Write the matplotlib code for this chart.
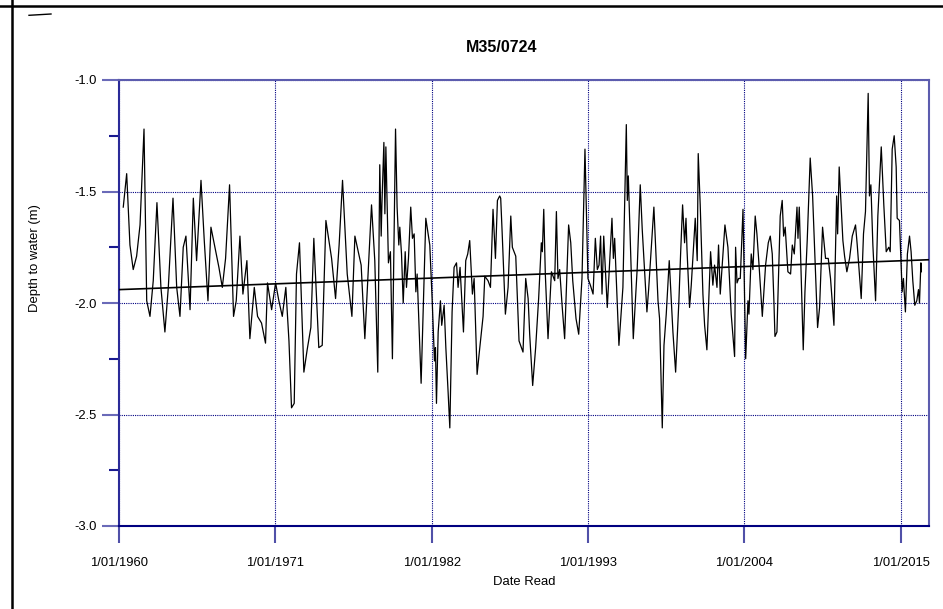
import matplotlib
matplotlib.use("Agg")
import matplotlib.pyplot as plt
from matplotlib.lines import Line2D
from matplotlib.ticker import FixedLocator, FuncFormatter

plt.rcParams['font.family'] = ['Liberation Sans', 'DejaVu Sans']

# readings, decimal year
years = [1960.30, 1960.54, 1960.77, 1961.00, 1961.24, 1961.48, 1961.76, 1961.95, 1962.18, 1962.41,
         1962.67, 1962.95, 1963.23, 1963.47, 1963.80, 1964.06, 1964.29, 1964.52, 1964.71, 1965.00,
         1965.23, 1965.46, 1965.77, 1966.00, 1966.26, 1966.47, 1966.75, 1967.03, 1967.27, 1967.50,
         1967.78, 1968.06, 1968.25, 1968.51, 1968.72, 1969.00, 1969.21, 1969.52, 1969.75, 1970.03,
         1970.31, 1970.45, 1970.74, 1971.02, 1971.25, 1971.49, 1971.74, 1971.96, 1972.14, 1972.33,
         1972.49, 1972.70, 1973.01, 1973.24, 1973.50, 1973.71, 1974.06, 1974.30, 1974.56, 1974.96,
         1975.24, 1975.49, 1975.73, 1976.06, 1976.39, 1976.60, 1977.04, 1977.30, 1977.77, 1978.00,
         1978.21, 1978.35, 1978.45, 1978.50, 1978.64, 1978.71, 1978.78, 1978.96, 1979.10, 1979.24,
         1979.46, 1979.57, 1979.69, 1979.76, 1979.88, 1980.00, 1980.14, 1980.23, 1980.37, 1980.53,
         1980.65, 1980.77, 1980.89, 1980.98, 1981.26, 1981.59, 1981.87, 1982.04, 1982.20, 1982.27,
         1982.34, 1982.46, 1982.62, 1982.71, 1982.88, 1983.00, 1983.16, 1983.28, 1983.44, 1983.58,
         1983.75, 1983.86, 1984.00, 1984.24, 1984.40, 1984.54, 1984.68, 1984.87, 1984.99, 1985.20,
         1985.34, 1985.62, 1985.74, 1985.97, 1986.14, 1986.32, 1986.49, 1986.63, 1986.79, 1986.86,
         1986.96, 1987.19, 1987.38, 1987.57, 1987.68, 1987.92, 1988.15, 1988.43, 1988.62, 1988.79,
         1988.90, 1989.11, 1989.32, 1989.53, 1989.72, 1989.79, 1989.89, 1990.00, 1990.19, 1990.43,
         1990.66, 1990.78, 1990.89, 1991.01, 1991.18, 1991.36, 1991.46, 1991.64, 1991.79, 1991.93,
         1992.16, 1992.35, 1992.58, 1992.79, 1993.00, 1993.17, 1993.36, 1993.52, 1993.66, 1993.78,
         1993.89, 1993.99, 1994.11, 1994.36, 1994.69, 1994.79, 1994.88, 1995.18, 1995.46, 1995.70,
         1995.77, 1995.84, 1996.19, 1996.47, 1996.68, 1996.82, 1997.15, 1997.27, 1997.39, 1997.64,
         1997.93, 1998.04, 1998.23, 1998.35, 1998.51, 1998.72, 1998.98, 1999.17, 1999.40, 1999.52,
         1999.66, 1999.80, 1999.90, 1999.97, 2000.15, 2000.27, 2000.55, 2000.69, 2000.76, 2000.90,
         2001.09, 2001.21, 2001.37, 2001.63, 2001.79, 2001.91, 2002.08, 2002.19, 2002.31, 2002.64,
         2002.85, 2003.08, 2003.32, 2003.39, 2003.49, 2003.60, 2003.72, 2003.91, 2004.10, 2004.26,
         2004.33, 2004.49, 2004.61, 2004.77, 2004.89, 2005.03, 2005.27, 2005.50, 2005.69, 2005.83,
         2005.97, 2006.09, 2006.16, 2006.30, 2006.53, 2006.67, 2006.77, 2006.88, 2007.07, 2007.26,
         2007.38, 2007.52, 2007.71, 2007.78, 2007.87, 2008.15, 2008.27, 2008.43, 2008.64, 2008.81,
         2009.16, 2009.30, 2009.51, 2009.72, 2009.91, 2010.07, 2010.31, 2010.50, 2010.57, 2010.68,
         2010.94, 2011.06, 2011.22, 2011.41, 2011.60, 2011.83, 2011.95, 2012.23, 2012.39, 2012.53,
         2012.72, 2012.81, 2012.91, 2013.05, 2013.24, 2013.40, 2013.64, 2013.82, 2013.99, 2014.17,
         2014.27, 2014.41, 2014.55, 2014.69, 2014.76, 2014.92, 2015.11, 2015.20, 2015.34, 2015.48,
         2015.63, 2015.74, 2015.86, 2016.00, 2016.14, 2016.26, 2016.33, 2016.43, 2016.45]
depth = [-1.57, -1.42, -1.74, -1.85, -1.79, -1.65, -1.22, -1.99, -2.06, -1.90,
         -1.55, -1.93, -2.13, -1.93, -1.53, -1.93, -2.06, -1.75, -1.70, -2.03,
         -1.53, -1.81, -1.45, -1.72, -1.99, -1.66, -1.75, -1.84, -1.93, -1.80,
         -1.47, -2.06, -1.99, -1.70, -1.96, -1.81, -2.16, -1.93, -2.06, -2.09,
         -2.18, -1.91, -2.03, -1.91, -1.99, -2.06, -1.93, -2.17, -2.47, -2.45,
         -1.87, -1.73, -2.31, -2.21, -2.11, -1.71, -2.20, -2.19, -1.63, -1.80,
         -1.98, -1.74, -1.45, -1.87, -2.06, -1.70, -1.83, -2.16, -1.56, -1.81,
         -2.31, -1.38, -1.70, -1.56, -1.28, -1.60, -1.30, -1.82, -1.77, -2.25,
         -1.22, -1.57, -1.74, -1.66, -1.78, -2.00, -1.77, -1.93, -1.80, -1.57,
         -1.71, -1.69, -1.95, -1.87, -2.36, -1.62, -1.74, -1.99, -2.26, -2.20,
         -2.45, -2.13, -1.99, -2.10, -2.01, -2.20, -2.40, -2.56, -2.04, -1.84,
         -1.82, -1.93, -1.84, -2.13, -1.81, -1.78, -1.72, -1.96, -1.89, -2.32,
         -2.23, -2.06, -1.88, -1.90, -1.93, -1.58, -1.80, -1.54, -1.52, -1.53,
         -1.68, -2.05, -1.93, -1.61, -1.75, -1.79, -2.17, -2.22, -1.89, -1.98,
         -2.14, -2.37, -2.20, -1.98, -1.73, -1.77, -1.58, -1.87, -2.16, -1.86,
         -1.90, -1.59, -1.89, -1.85, -2.01, -2.16, -1.98, -1.65, -1.73, -1.90,
         -2.07, -2.14, -1.89, -1.31, -1.89, -1.92, -1.96, -1.71, -1.85, -1.83,
         -1.70, -1.96, -1.70, -2.02, -1.62, -1.80, -1.71, -2.19, -1.93, -1.20,
         -1.54, -1.43, -2.16, -1.84, -1.47, -1.67, -2.04, -1.94, -1.82, -1.57,
         -1.99, -2.07, -2.56, -2.19, -2.05, -1.81, -2.13, -2.31, -1.99, -1.78,
         -1.56, -1.73, -1.62, -1.76, -2.02, -1.92, -1.62, -1.81, -1.33, -1.56,
         -1.96, -2.10, -2.21, -1.77, -1.92, -1.83, -1.93, -1.74, -1.96, -1.65,
         -1.75, -2.05, -2.24, -1.75, -1.91, -1.89, -1.89, -1.58, -2.25, -1.99,
         -2.05, -1.78, -1.85, -1.61, -1.69, -1.82, -2.06, -1.83, -1.73, -1.70,
         -1.78, -2.00, -2.15, -2.13, -1.61, -1.54, -1.70, -1.66, -1.86, -1.87,
         -1.74, -1.78, -1.57, -1.71, -1.57, -2.21, -1.95, -1.72, -1.35, -1.52,
         -2.11, -2.02, -1.66, -1.80, -1.80, -1.89, -2.10, -1.52, -1.69, -1.39,
         -1.72, -1.79, -1.86, -1.80, -1.70, -1.65, -1.74, -1.98, -1.69, -1.59,
         -1.06, -1.52, -1.47, -1.74, -1.99, -1.61, -1.30, -1.56, -1.77, -1.75,
         -1.77, -1.31, -1.25, -1.39, -1.62, -1.63, -1.95, -1.89, -2.04, -1.78,
         -1.70, -1.77, -1.90, -2.01, -1.99, -1.94, -2.00, -1.82, -1.86]

# linear trend end points
trend_years = [1960.0, 2017.0]
trend_depth = [-1.94, -1.806]

tick_years = [1960, 1971, 1982, 1993, 2004, 2015]
y_major = [-1.0, -1.5, -2.0, -2.5, -3.0]
y_minor = [-1.25, -1.75, -2.25, -2.75]

W, H = 943, 609
fig = plt.figure(figsize=(W / 100, H / 100), dpi=100)
ax = fig.add_axes([119 / W, 1 - 526 / H, 810 / W, 446 / H])

ax.plot(years, depth, color='black', lw=0.9, zorder=3)
ax.plot(trend_years, trend_depth, color='black', lw=1.2, zorder=3)

ax.set_xlim(1960, 2017)
ax.set_ylim(-3.0, -1.0)

ax.xaxis.set_major_locator(FixedLocator(tick_years))
ax.xaxis.set_major_formatter(FuncFormatter(lambda v, p: "1/01/%d" % int(round(v))))
ax.yaxis.set_major_locator(FixedLocator(y_major))
ax.yaxis.set_minor_locator(FixedLocator(y_minor))
ax.yaxis.set_major_formatter(FuncFormatter(lambda v, p: "%.1f" % v))

ax.grid(True, which='major', color='#000080', lw=0.8, linestyle=(0, (1, 1)), zorder=1)

ax.tick_params(axis='x', which='major', direction='out', length=12, width=1.5,
               color='#5050a8', pad=10, labelsize=9.4)
ax.tick_params(axis='y', which='major', direction='out', length=12, width=1.5,
               color='#6a6ab8', pad=4, labelsize=9.4)
ax.tick_params(axis='y', which='minor', direction='out', length=7, width=1.5,
               color='#1a1a90')

ax.spines['top'].set_color('#5c5cae')
ax.spines['right'].set_color('#5c5cae')
ax.spines['left'].set_color('#2a2a98')
ax.spines['bottom'].set_color('#000080')
for s in ax.spines.values():
    s.set_linewidth(1.5)

fig.text(502 / W, 1 - 47 / H, "M35/0724", ha='center', va='center',
         fontsize=11.5, fontweight='bold')
fig.text(35 / W, 1 - 258 / H, "Depth to water (m)", ha='center', va='center',
         rotation=90, fontsize=9.4)
fig.text(524 / W, 1 - 582 / H, "Date Read", ha='center', va='center', fontsize=9.4)

# outer frame pieces from the page
fig.add_artist(Line2D([12 / W, 12 / W], [0, 1], transform=fig.transFigure,
                      color='black', lw=1.8))
fig.add_artist(Line2D([0, 1], [1 - 6 / H, 1 - 6 / H], transform=fig.transFigure,
                      color='black', lw=1.8))
fig.add_artist(Line2D([29 / W, 51 / W], [1 - 15.3 / H, 1 - 14 / H], transform=fig.transFigure,
                      color='black', lw=1.0))

fig.savefig("out.png", dpi=100)
